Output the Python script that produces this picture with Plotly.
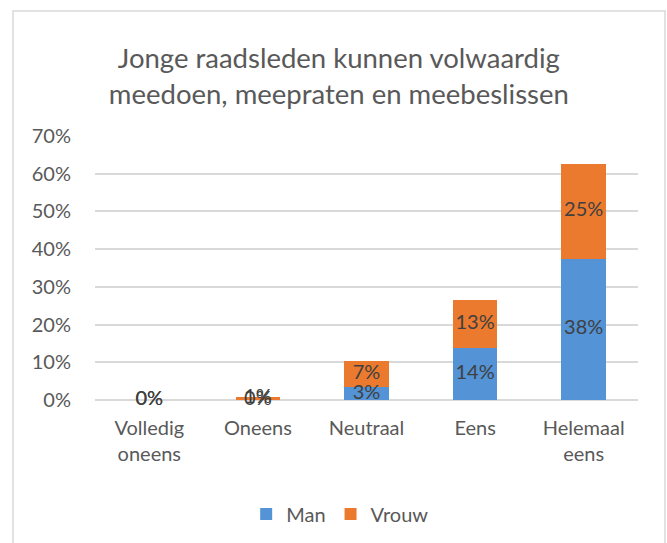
import plotly.graph_objects as go

categories = ["Volledig<br>oneens", "Oneens", "Neutraal", "Eens", "Helemaal<br>eens"]
man = [0.0, 0.0, 0.034, 0.138, 0.375]
vrouw = [0.0, 0.009, 0.069, 0.128, 0.25]
y_ticks = [0, 0.1, 0.2, 0.3, 0.4, 0.5, 0.6, 0.7]
title_text = "Jonge raadsleden kunnen volwaardig<br>meedoen, meepraten en meebeslissen"

FONT = "Lato, 'Open Sans', sans-serif"
TXT = "#595959"
LBL = "#404040"
BLUE = "#5393d6"
ORANGE = "#ec7a2e"

fig = go.Figure()
fig.add_trace(go.Bar(x=categories, y=man, name="Man", marker=dict(color=BLUE, line=dict(width=0))))
fig.add_trace(go.Bar(x=categories, y=vrouw, name="Vrouw", marker=dict(color=ORANGE, line=dict(width=0))))

# data labels at segment centres
vrouw_mid = [m + v / 2 for m, v in zip(man, vrouw)]
man_mid = [m / 2 for m in man]
fig.add_trace(go.Scatter(x=categories, y=vrouw_mid, mode="text",
                         text=[f"{round(v*100)}%" for v in vrouw],
                         textfont=dict(family=FONT, size=20, color=LBL),
                         cliponaxis=False, showlegend=False, hoverinfo="skip"))
fig.add_trace(go.Scatter(x=categories, y=man_mid, mode="text",
                         text=[f"{round(m*100)}%" for m in man],
                         textfont=dict(family=FONT, size=20, color=LBL),
                         cliponaxis=False, showlegend=False, hoverinfo="skip"))

fig.update_layout(
    width=667, height=543,
    barmode="stack", bargap=0.59,
    paper_bgcolor="white", plot_bgcolor="white",
    margin=dict(l=95, r=29, t=136, b=143),
    font=dict(family=FONT, color=TXT),
    title=dict(text=title_text, x=0.508, xanchor="center", xref="container",
               y=1 - 68 / 543, yanchor="middle", yref="container",
               font=dict(size=27.5, color=TXT, family=FONT)),
    legend=dict(orientation="h", x=0.51, xanchor="center", xref="container",
                y=1 - 514 / 543, yanchor="middle", yref="container",
                font=dict(size=20, color=TXT), traceorder="normal",
                itemwidth=30),
    xaxis=dict(type="category", showgrid=False, showline=False, zeroline=False,
               tickfont=dict(size=20, color=TXT), ticklabelstandoff=14),
    yaxis=dict(range=[0, 0.7], tickvals=y_ticks, tickformat=".0%",
               showgrid=True, gridcolor="#d9d9d9", gridwidth=1.5,
               zeroline=True, zerolinecolor="#d9d9d9", zerolinewidth=1.5,
               showline=False, tickfont=dict(size=20, color=TXT), ticklabelstandoff=23),
    shapes=[dict(type="rect", xref="paper", yref="paper",
                 x0=(13 - 95) / 543, x1=(665 - 95) / 543,
                 y0=(400 - 560) / 264, y1=(400 - 11) / 264,
                 line=dict(color="#d9d9d9", width=1.5), layer="below")],
)

fig.write_html("out.html", config={"displayModeBar": False},
               post_script="document.body.style.margin='0';document.body.style.overflow='hidden';")
